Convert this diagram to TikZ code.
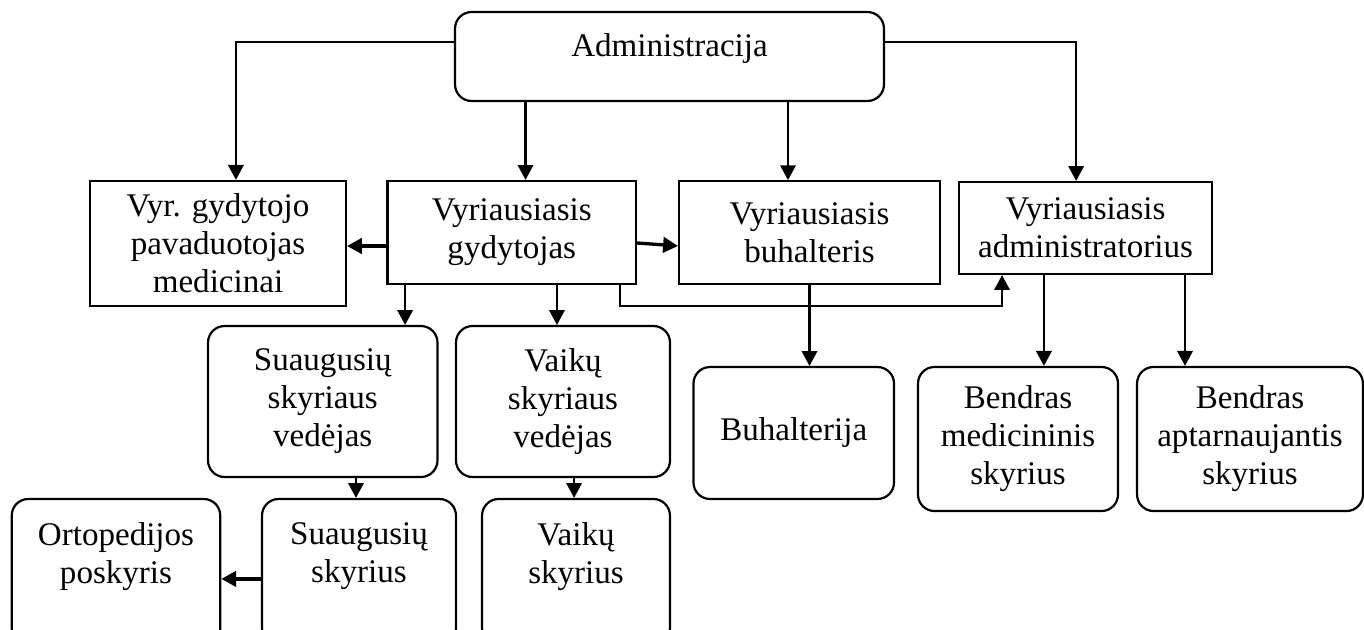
\documentclass[tikz,border=0pt]{standalone}
\usepackage{fontspec}
\setmainfont{Liberation Serif}
\usetikzlibrary{arrows.meta, positioning}

\begin{document}
\begin{tikzpicture}[
        x = 0.363pt, y = -0.363pt,
        box/.style = {rectangle, draw, line width=0.8pt, align=center, inner sep=2pt, font=\fontsize{12}{13.8}\selectfont},
        rbox/.style = {box, rounded corners=6pt},
        arrow/.style = {-{Triangle[length=5.4pt, width=5.6pt]}, line width=0.8pt},
        sidearrow/.style = {arrow, line width=1.2pt}
    ]
        \useasboundingbox (0,0) rectangle (1364,629);
        \clip (0,0) rectangle (1364,629);

        % Top: administration
        \node [rbox, minimum width=155.7pt, minimum height=32.3pt, text height=8pt, text depth=8pt] (admin) at (669.5,56.5) {Administracija};

        % Row 1: heads
        \node [box, minimum width=92.9pt, minimum height=45.4pt] (vyrpav) at (218,243.5) {Vyr. gydytojo\\pavaduotojas\\medicinai};
        \node [box, minimum width=90.2pt, minimum height=37.4pt] (vyrgyd) at (511.75,232.5) {Vyriausiasis\\gydytojas};
        \node [box, minimum width=94.7pt, minimum height=37.2pt] (vyrbuh) at (809.5,232.5) {Vyriausiasis\\buhalteris};
        \node [box, minimum width=91.8pt, minimum height=33.4pt] (vyradm) at (1085.5,228) {Vyriausiasis\\administratorius};

        % Row 2: department heads and units
        \node [rbox, minimum width=83.3pt, minimum height=54.8pt] (suavad) at (322.75,401.5) {Suaugusių\\skyriaus\\vedėjas};
        \node [rbox, minimum width=77.7pt, minimum height=54.8pt] (vaivad) at (563,401.5) {Vaikų\\skyriaus\\vedėjas};
        \node [rbox, minimum width=72.8pt, minimum height=47.9pt] (buhalt) at (793.75,433) {Buhalterija};
        \node [rbox, minimum width=72.6pt, minimum height=52.3pt] (bendmed) at (1018,439) {Bendras\\medicininis\\skyrius};
        \node [rbox, minimum width=82.0pt, minimum height=52.3pt] (bendapt) at (1250,439) {Bendras\\aptarnaujantis\\skyrius};

        % Row 3: departments
        \node [rbox, minimum width=75.7pt, minimum height=53pt] (ortop) at (116,572) {Ortopedijos\\poskyris\\~};
        \node [rbox, minimum width=70.4pt, minimum height=53pt] (suasky) at (359,572) {Suaugusių\\skyrius\\~};
        \node [rbox, minimum width=68.2pt, minimum height=53pt] (vaisky) at (576,572) {Vaikų\\skyrius\\~};

        % Connections
        % From administration
        \draw [arrow] ([yshift=5.3pt]admin.west) -| ([xshift=6.5pt]vyrpav.north);
        \draw [arrow] ([xshift=5pt]vyrgyd.north |- admin.south) -- ([xshift=5pt]vyrgyd.north);
        \draw [arrow] ([xshift=-7.8pt]vyrbuh.north |- admin.south) -- ([xshift=-7.8pt]vyrbuh.north);
        \draw [arrow] ([yshift=5.3pt]admin.east) -| ([xshift=-3.4pt]vyradm.north);

        % From chief physician
        \draw [sidearrow] ([yshift=-4.9pt]vyrgyd.west) -- ([yshift=-4.9pt]vyrpav.east |- vyrgyd.west);
        \draw [sidearrow] ([yshift=-3.8pt]vyrgyd.east) -- ([yshift=-4.9pt]vyrbuh.west);
        \draw [arrow] ([xshift=29.9pt]suavad.north |- vyrgyd.south) -- ([xshift=29.9pt]suavad.north);
        \draw [arrow] ([xshift=-2.2pt]vaivad.north |- vyrgyd.south) -- ([xshift=-2.2pt]vaivad.north);
        \draw [arrow] ([xshift=39.3pt]vyrgyd.south) -- ++(0pt,-7.6pt) -| ([xshift=-30.3pt]vyradm.south);

        % From chief accountant and administrator
        \draw [arrow] (vyrbuh.south) -- (vyrbuh.south |- buhalt.north);
        \draw [arrow] ([xshift=9.4pt]bendmed.north |- vyradm.south) -- ([xshift=9.4pt]bendmed.north);
        \draw [arrow] ([xshift=-23.6pt]bendapt.north |- vyradm.south) -- ([xshift=-23.6pt]bendapt.north);

        % Departments
        \draw [arrow] ([xshift=-1.1pt]suasky.north |- suavad.south) -- ([xshift=-1.1pt]suasky.north);
        \draw [arrow] ([xshift=-0.7pt]vaisky.north |- vaivad.south) -- ([xshift=-0.7pt]vaisky.north);
        \draw [sidearrow] ([yshift=-2.5pt]suasky.west) -- ([yshift=-2.5pt]ortop.east);

    \end{tikzpicture}
\end{document}
